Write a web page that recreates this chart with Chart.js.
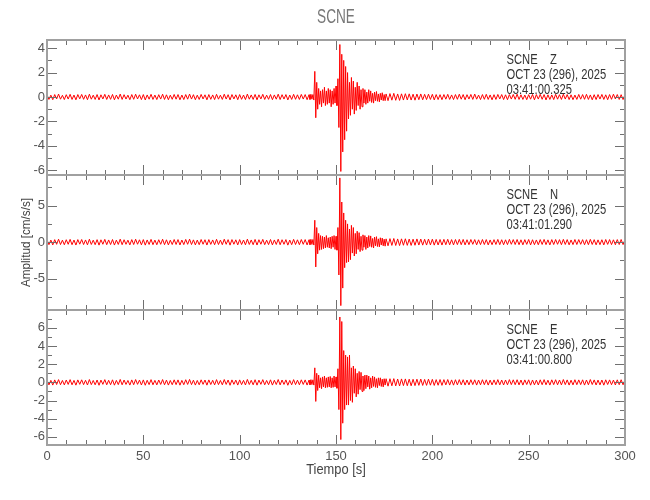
<!DOCTYPE html>
<html>
<head>
<meta charset="utf-8">
<script src="https://cdn.jsdelivr.net/npm/chart.js@4"></script>
<style>
  body { margin: 0; background: #fff; }
  #wrap { position: relative; width: 650px; height: 500px; }
  #wrap canvas { position: absolute; left: 0; top: 0; }
</style>
</head>
<body>
<div id="wrap">
  <canvas id="panelZ" width="650" height="500"></canvas>
  <canvas id="panelN" width="650" height="500"></canvas>
  <canvas id="panelE" width="650" height="500"></canvas>
</div>
<script>
// sample times [s], shared by the three traces
const times = [
  0,1,2,3,4,5,6,7,8,9,10,11,12,13,14,15,16,17,18,19,20,21,22,23,24,25,26,27,28,29,
  30,31,32,33,34,35,36,37,38,39,40,41,42,43,44,45,46,47,48,49,50,51,52,53,54,55,56,57,58,59,
  60,61,62,63,64,65,66,67,68,69,70,71,72,73,74,75,76,77,78,79,80,81,82,83,84,85,86,87,88,89,
  90,91,92,93,94,95,96,97,98,99,100,101,102,103,104,105,106,107,108,109,110,111,112,113,114,
  115,116,117,118,119,120,121,122,123,124,125,126,127,128,129,130,131,132,133,134,135,136,
  136.5,137,137.5,138,138.5,139,139.5,140,140.5,141,141.5,142,142.5,143,143.5,144,144.5,
  145,145.5,146,146.5,147,147.5,148,148.5,149,149.5,150,150.5,151,151.5,152,152.5,153,
  153.5,154,154.5,155,155.5,156,156.5,157,157.5,158,158.5,159,159.5,160,160.5,161,161.5,
  162,162.5,163,163.5,164,164.5,165,165.5,166,166.5,167,167.5,168,168.5,169,169.5,170,
  170.5,171,171.5,172,172.5,173,173.5,174,174.5,175,175.5,176,
  177,178,179,180,181,182,183,184,185,186,187,188,189,190,191,192,193,194,195,196,197,198,199,
  200,201,202,203,204,205,206,207,208,209,210,211,212,213,214,215,216,217,218,219,220,221,222,
  223,224,225,226,227,228,229,230,231,232,233,234,235,236,237,238,239,240,241,242,243,244,245,
  246,247,248,249,250,251,252,253,254,255,256,257,258,259,260,261,262,263,264,265,266,267,268,
  269,270,271,272,273,274,275,276,277,278,279,280,281,282,283,284,285,286,287,288,289,290,291,
  292,293,294,295,296,297,298,299,300
];

// vertical component Z [cm/s/s]
const zValues = [
  0.18,-0.2,0.15,-0.22,0.2,-0.16,0.24,-0.18,0.14,-0.21,
  0.19,-0.17,0.22,-0.2,0.16,-0.23,0.2,-0.15,0.21,-0.19,
  0.17,-0.22,0.23,-0.18,0.15,-0.2,0.2,-0.24,0.18,-0.16,
  0.22,-0.2,0.17,-0.19,0.21,-0.23,0.16,-0.18,0.24,-0.2,
  0.19,-0.17,0.15,-0.22,0.2,-0.19,0.23,-0.16,0.18,-0.21,
  0.2,-0.24,0.17,-0.18,0.22,-0.2,0.16,-0.21,0.19,-0.17,
  0.23,-0.2,0.18,-0.22,0.15,-0.19,0.21,-0.18,0.2,-0.23,
  0.16,-0.21,0.2,-0.18,0.24,-0.17,0.19,-0.22,0.15,-0.2,
  0.21,-0.16,0.18,-0.23,0.2,-0.19,0.17,-0.21,0.22,-0.18,
  0.15,-0.2,0.23,-0.17,0.19,-0.24,0.2,-0.16,0.18,-0.22,
  0.2,-0.19,0.16,-0.21,0.24,-0.18,0.17,-0.2,0.21,-0.23,
  0.18,-0.16,0.22,-0.2,0.15,-0.19,0.2,-0.22,0.17,-0.18,
  0.23,-0.21,0.19,-0.17,0.2,-0.24,0.16,-0.2,0.22,-0.19,
  0.18,-0.2,0.21,-0.17,0.2,-0.22,0.19,
  -0.2,0.22,-0.18,0.2,-0.25,
  2.1,-1.7,1.2,-1.0,
  0.7,-0.6,0.5,-0.8,0.6,-0.5,0.8,-0.7,0.5,-0.6,0.7,-0.5,0.6,-0.8,0.5,-0.6,0.7,-0.5,0.9,-0.7,
  1.5,-2.5,4.3,-6.1,3.5,-4.5,3.0,-3.5,2.5,-2.8,2.0,
  -1.8,1.2,-1.5,1.6,-1.0,1.3,-1.4,0.8,-1.1,1.2,-0.7,0.9,-1.0,0.6,-0.8,0.7,-0.5,0.6,
  -0.6,0.4,-0.5,0.6,-0.35,0.5,-0.45,0.3,-0.5,0.4,-0.3,0.45,-0.35,0.25,-0.4,0.3,-0.25,0.35,-0.3,0.2,-0.3,0.25,
  -0.3,0.28,-0.26,0.3,-0.27,0.25,-0.28,0.26,-0.25,0.27,
  -0.24,0.26,-0.25,0.23,-0.26,0.24,-0.22,0.25,-0.23,0.22,
  -0.21,0.23,-0.2,0.22,-0.24,0.2,-0.21,0.19,-0.22,0.2,
  -0.18,0.22,-0.2,0.17,-0.21,0.2,-0.19,0.23,-0.18,0.2,
  -0.22,0.19,-0.17,0.21,-0.2,0.24,-0.18,0.16,-0.21,0.2,
  -0.19,0.22,-0.2,0.17,-0.23,0.19,-0.2,0.21,-0.16,0.2,
  -0.21,0.18,-0.22,0.2,-0.17,0.21,-0.19,0.23,-0.2,0.18,
  -0.2,0.16,-0.22,0.19,-0.18,0.21,-0.23,0.2,-0.17,0.22,
  -0.19,0.2,-0.24,0.18,-0.2,0.17,-0.21,0.22,-0.18,0.19,
  -0.2,0.23,-0.17,0.2,-0.21,0.18,-0.22,0.16,-0.2,0.21,
  -0.18,0.2,-0.19,0.22,-0.2,0.17,-0.23,0.19,-0.21,0.2,
  -0.17,0.21,-0.2,0.18,-0.22,0.2,-0.19,0.23,-0.16,0.2,
  -0.2,0.19,-0.21,0.2
];

// north component N
const nValues = [
  0.32,-0.35,0.28,-0.38,0.34,-0.3,0.4,-0.33,0.27,-0.36,
  0.33,-0.3,0.38,-0.35,0.29,-0.4,0.35,-0.28,0.36,-0.33,
  0.3,-0.37,0.4,-0.32,0.27,-0.35,0.34,-0.41,0.32,-0.29,
  0.38,-0.35,0.3,-0.33,0.36,-0.4,0.28,-0.32,0.41,-0.35,
  0.33,-0.3,0.27,-0.38,0.35,-0.33,0.4,-0.29,0.32,-0.37,
  0.35,-0.41,0.3,-0.32,0.38,-0.35,0.28,-0.36,0.33,-0.3,
  0.4,-0.35,0.32,-0.38,0.27,-0.33,0.36,-0.32,0.35,-0.39,
  0.29,-0.34,0.37,-0.3,0.41,-0.33,0.31,-0.38,0.28,-0.35,
  0.36,-0.29,0.33,-0.4,0.35,-0.31,0.3,-0.36,0.39,-0.33,
  0.28,-0.35,0.4,-0.3,0.34,-0.41,0.35,-0.29,0.32,-0.38,
  0.35,-0.33,0.29,-0.37,0.41,-0.32,0.3,-0.35,0.37,-0.4,
  0.33,-0.29,0.38,-0.35,0.27,-0.34,0.36,-0.38,0.3,-0.32,
  0.4,-0.36,0.33,-0.3,0.35,-0.41,0.29,-0.35,0.38,-0.33,
  0.32,-0.35,0.36,-0.3,0.35,-0.38,0.33,
  -0.35,0.38,-0.32,0.36,-0.4,
  3.0,-3.4,2.0,-1.6,
  1.2,-1.1,0.9,-1.0,0.8,-0.9,0.7,-0.8,0.9,-0.7,0.6,-0.8,0.7,-0.9,0.8,-0.7,0.9,-1.0,0.8,-1.1,
  2.0,-4.5,8.8,-8.7,5.5,-6.3,4.0,-3.5,3.0,-2.8,2.5,
  -2.7,1.8,-2.4,2.3,-1.5,2.0,-1.9,1.2,-1.6,1.5,-1.0,1.3,-1.3,0.8,-1.1,1.0,-0.7,0.9,
  -1.0,0.7,-0.8,0.9,-0.6,0.85,-0.7,0.5,-0.8,0.7,-0.5,0.75,-0.6,0.45,-0.65,0.6,-0.4,0.55,-0.5,0.4,-0.55,0.45,
  -0.5,0.48,-0.45,0.5,-0.46,0.44,-0.47,0.45,-0.43,0.46,
  -0.44,0.42,-0.45,0.41,-0.43,0.44,-0.4,0.42,-0.41,0.39,
  -0.4,0.42,-0.38,0.4,-0.41,0.37,-0.39,0.36,-0.4,0.38,
  -0.36,0.39,-0.37,0.35,-0.38,0.36,-0.34,0.38,-0.35,0.37,
  -0.38,0.33,-0.35,0.36,-0.3,0.35,-0.37,0.32,-0.34,0.36,
  -0.33,0.35,-0.38,0.3,-0.35,0.34,-0.32,0.37,-0.35,0.33,
  -0.36,0.32,-0.34,0.38,-0.3,0.35,-0.33,0.36,-0.35,0.32,
  -0.37,0.34,-0.31,0.36,-0.38,0.33,-0.35,0.3,-0.36,0.35,
  -0.32,0.37,-0.34,0.31,-0.38,0.35,-0.33,0.36,-0.3,0.34,
  -0.35,0.38,-0.32,0.35,-0.37,0.3,-0.34,0.36,-0.33,0.35,
  -0.3,0.34,-0.36,0.33,-0.35,0.38,-0.32,0.34,-0.37,0.31,
  -0.35,0.33,-0.38,0.36,-0.31,0.35,-0.34,0.32,-0.36,0.35,
  -0.33,0.36,-0.34,0.35
];

// east component E
const eValues = [
  0.25,-0.28,0.22,-0.3,0.27,-0.24,0.3,-0.26,0.21,-0.28,
  0.26,-0.23,0.3,-0.27,0.22,-0.31,0.27,-0.22,0.28,-0.25,
  0.23,-0.29,0.31,-0.25,0.21,-0.27,0.26,-0.32,0.25,-0.22,
  0.3,-0.27,0.23,-0.26,0.28,-0.31,0.22,-0.25,0.32,-0.27,
  0.26,-0.23,0.21,-0.3,0.27,-0.26,0.31,-0.22,0.25,-0.29,
  0.27,-0.32,0.23,-0.25,0.3,-0.27,0.22,-0.28,0.26,-0.23,
  0.31,-0.27,0.25,-0.3,0.21,-0.26,0.28,-0.25,0.27,-0.31,
  0.22,-0.26,0.29,-0.23,0.32,-0.25,0.24,-0.3,0.21,-0.27,
  0.28,-0.22,0.26,-0.31,0.27,-0.24,0.23,-0.28,0.3,-0.25,
  0.21,-0.27,0.31,-0.23,0.26,-0.32,0.27,-0.22,0.25,-0.3,
  0.27,-0.25,0.22,-0.29,0.32,-0.24,0.23,-0.27,0.29,-0.31,
  0.25,-0.22,0.3,-0.27,0.21,-0.26,0.28,-0.3,0.23,-0.24,
  0.31,-0.28,0.26,-0.23,0.27,-0.32,0.22,-0.27,0.3,-0.25,
  0.24,-0.27,0.28,-0.23,0.27,-0.3,0.25,
  -0.27,0.3,-0.25,0.28,-0.3,
  1.6,-2.1,1.0,-0.9,
  0.8,-0.6,0.5,-0.7,0.6,-0.5,0.7,-0.6,0.5,-0.55,0.6,-0.5,0.65,-0.6,0.5,-0.55,0.7,-0.5,0.6,-0.65,
  1.5,-3.0,7.2,-6.3,6.7,-4.5,3.5,-3.0,3.0,-2.5,2.8,
  -2.5,3.0,-2.0,1.6,-2.2,1.8,-1.2,1.5,-1.6,1.0,-1.3,1.2,-0.8,1.1,-1.0,0.7,-0.9,0.8,
  -0.7,0.8,-0.5,0.7,-0.75,0.5,-0.6,0.7,-0.45,0.6,-0.55,0.4,-0.6,0.5,-0.35,0.5,-0.45,0.35,-0.5,0.4,-0.3,0.4,
  -0.42,0.4,-0.38,0.41,-0.39,0.37,-0.4,0.38,-0.36,0.38,
  -0.37,0.35,-0.38,0.34,-0.36,0.35,-0.33,0.36,-0.34,0.32,
  -0.33,0.35,-0.31,0.33,-0.34,0.3,-0.32,0.31,-0.33,0.3,
  -0.28,0.31,-0.3,0.27,-0.31,0.29,-0.28,0.3,-0.27,0.29,
  -0.3,0.26,-0.28,0.29,-0.25,0.28,-0.3,0.26,-0.27,0.29,
  -0.26,0.28,-0.3,0.25,-0.28,0.27,-0.26,0.3,-0.28,0.26,
  -0.29,0.26,-0.27,0.3,-0.25,0.28,-0.26,0.29,-0.28,0.26,
  -0.3,0.27,-0.24,0.28,-0.31,0.26,-0.28,0.25,-0.29,0.28,
  -0.26,0.3,-0.27,0.24,-0.3,0.28,-0.25,0.29,-0.27,0.26,
  -0.28,0.31,-0.25,0.27,-0.3,0.24,-0.28,0.29,-0.26,0.27,
  -0.25,0.28,-0.3,0.26,-0.27,0.31,-0.24,0.27,-0.29,0.25,
  -0.28,0.26,-0.31,0.28,-0.24,0.27,-0.26,0.25,-0.29,0.28,
  -0.26,0.29,-0.27,0.28
];

const station = 'SCNE';
const dateLine = 'OCT 23 (296), 2025';
const components = ['Z', 'N', 'E'];
const startTimes = ['03:41:00.325', '03:41:01.290', '03:41:00.800'];

const FONT = "'Liberation Sans', Arial, sans-serif";
const AXIS_COLOR = '#a0a0a0';
const TICK_COLOR = '#707070';

const panels = [
  { id: 'panelZ', values: zValues, min: -6.39, max: 4.67, major: 2, minor: 1, top: 40, bottom: 175 },
  { id: 'panelN', values: nValues, min: -9.3, max: 9.2, major: 5, minor: 2.5, top: 175, bottom: 310 },
  { id: 'panelE', values: eValues, min: -6.9, max: 7.97, major: 2, minor: 1, top: 310, bottom: 445 }
];

// squeeze text horizontally, the original plot uses a narrow stroke font
function narrowText(ctx, text, x, y, squeeze) {
  ctx.save();
  ctx.translate(x, y);
  ctx.scale(squeeze, 1);
  ctx.fillText(text, 0, 0);
  ctx.restore();
}

// box, inward ticks and station labels
function framePlugin(index, p) {
  return {
    id: 'frame' + index,
    afterDatasetsDraw(chart) {
      const ctx = chart.ctx;
      const area = chart.chartArea;
      const xs = chart.scales.x;
      const ys = chart.scales.y;
      ctx.save();

      ctx.strokeStyle = TICK_COLOR;
      ctx.lineWidth = 1;
      ctx.beginPath();
      for (let t = 0; t <= 300; t += 10) {
        const px = Math.round(xs.getPixelForValue(t)) + 0.5;
        const len = t % 50 === 0 ? 10 : 5;
        ctx.moveTo(px, area.top); ctx.lineTo(px, area.top + len);
        ctx.moveTo(px, area.bottom); ctx.lineTo(px, area.bottom - len);
      }
      const first = Math.ceil(p.min / p.minor) * p.minor;
      for (let v = first; v <= p.max + 1e-9; v += p.minor) {
        const py = Math.round(ys.getPixelForValue(v)) + 0.5;
        const isMajor = Math.abs(v / p.major - Math.round(v / p.major)) < 1e-6;
        const len = isMajor ? 10 : 5;
        ctx.moveTo(area.left, py); ctx.lineTo(area.left + len, py);
        ctx.moveTo(area.right, py); ctx.lineTo(area.right - len, py);
      }
      ctx.stroke();

      ctx.strokeStyle = AXIS_COLOR;
      ctx.lineWidth = 2;
      ctx.strokeRect(area.left, area.top, area.right - area.left, area.bottom - area.top);

      // station / date / start time
      ctx.fillStyle = '#333';
      ctx.font = '14px ' + FONT;
      ctx.textAlign = 'left';
      ctx.textBaseline = 'middle';
      const tx = xs.getPixelForValue(238.5);
      narrowText(ctx, station + '    ' + components[index], tx, area.top + 20, 0.8);
      narrowText(ctx, dateLine, tx, area.top + 35, 0.8);
      narrowText(ctx, startTimes[index], tx, area.top + 50, 0.8);

      if (index === 0) {
        ctx.fillStyle = '#777';
        ctx.font = '21px ' + FONT;
        ctx.textAlign = 'center';
        narrowText(ctx, station, (area.left + area.right) / 2, 17, 0.65);
      }
      if (index === 1) {
        ctx.fillStyle = '#444';
        ctx.font = '13px ' + FONT;
        ctx.textAlign = 'center';
        ctx.translate(26, (area.top + area.bottom) / 2);
        ctx.rotate(-Math.PI / 2);
        narrowText(ctx, 'Amplitud [cm/s/s]', 0, 0, 0.9);
        ctx.setTransform(1, 0, 0, 1, 0, 0);
      }
      if (index === 2) {
        ctx.fillStyle = '#444';
        ctx.font = '14px ' + FONT;
        ctx.textAlign = 'center';
        narrowText(ctx, 'Tiempo [s]', (area.left + area.right) / 2, 470, 0.92);
      }
      ctx.restore();
    }
  };
}

panels.forEach((p, i) => {
  const isLast = i === panels.length - 1;
  new Chart(document.getElementById(p.id), {
    type: 'line',
    data: {
      datasets: [{
        data: times.map((t, k) => ({ x: t, y: p.values[k] })),
        borderColor: '#ff0000',
        borderWidth: 1,
        pointRadius: 0,
        tension: 0,
        fill: false
      }]
    },
    options: {
      responsive: false,
      animation: false,
      layout: {
        padding: { left: 0, right: 25, top: p.top, bottom: isLast ? 0 : 500 - p.bottom }
      },
      plugins: { legend: { display: false }, tooltip: { enabled: false } },
      scales: {
        x: {
          type: 'linear',
          min: 0,
          max: 300,
          display: isLast,
          grid: { display: false, drawTicks: false },
          border: { display: false },
          ticks: { stepSize: 50, maxRotation: 0, padding: 4, color: '#555', font: { family: FONT, size: 13 } },
          afterFit: s => { s.height = isLast ? 55 : 0; }
        },
        y: {
          min: p.min,
          max: p.max,
          grid: { display: false, drawTicks: false },
          border: { display: false },
          ticks: {
            stepSize: p.major, includeBounds: false, autoSkip: false, padding: 2,
            color: '#555', font: { family: FONT, size: 13 }
          },
          afterFit: s => { s.width = 47; }
        }
      }
    },
    plugins: [framePlugin(i, p)]
  });
});
</script>
</body>
</html>
